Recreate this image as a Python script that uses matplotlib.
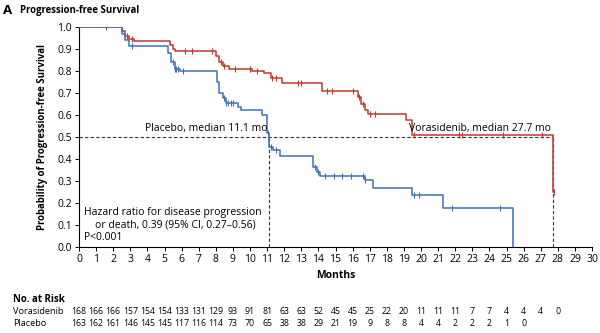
import matplotlib.pyplot as plt

plt.rcParams['font.family'] = ['Open Sans', 'DejaVu Sans']

# Kaplan-Meier steps (month, survival probability after the step)
vora_t = [0, 2.5, 2.7, 2.9, 3.2, 5.3, 5.5, 5.6, 8.0, 8.2, 8.4, 8.8, 10.1, 10.8, 11.2, 11.85,
          14.2, 16.3, 16.5, 16.7, 16.9, 19.1, 19.45, 27.7]
vora_s = [1.0, 0.98, 0.96, 0.945, 0.935, 0.92, 0.90, 0.893, 0.87, 0.84, 0.825, 0.81, 0.80, 0.79,
          0.77, 0.745, 0.71, 0.68, 0.65, 0.625, 0.604, 0.577, 0.507, 0.25]
vora_end = 27.8

plac_t = [0, 2.5, 2.7, 2.9, 5.2, 5.4, 5.6, 5.9, 8.05, 8.2, 8.4, 8.6, 9.3, 9.5, 10.7, 11.0,
          11.1, 11.35, 11.75, 13.7, 13.9, 14.1, 16.7, 17.2, 19.45, 21.3, 25.4]
plac_s = [1.0, 0.97, 0.94, 0.914, 0.88, 0.84, 0.81, 0.80, 0.75, 0.70, 0.677, 0.654, 0.638,
          0.623, 0.60, 0.52, 0.456, 0.441, 0.414, 0.365, 0.34, 0.324, 0.305, 0.267, 0.236,
          0.176, 0.0]

# censored observations (months)
vora_cens = [1.6, 2.8, 3.1, 6.2, 6.6, 7.8, 8.3, 8.5, 9.1, 10.0, 10.4, 11.3, 11.5, 12.8, 13.0,
             14.5, 14.8, 16.0, 16.4, 16.6, 17.0, 17.3, 19.6, 22.2, 22.4, 24.8, 27.1, 27.8]
plac_cens = [3.1, 5.5, 5.6, 5.7, 5.8, 6.1, 8.5, 8.6, 8.7, 8.9, 9.0, 11.05, 11.2, 11.5,
             13.8, 14.0, 14.4, 14.9, 15.4, 15.9, 16.6, 16.7, 19.6, 19.9, 21.8, 24.6]

months = list(range(0, 31))
risk_months_vora = list(range(0, 29))
risk_vora = [168, 166, 166, 157, 154, 154, 133, 131, 129, 93, 91, 81, 63, 63, 52, 45, 45, 25,
             22, 20, 11, 11, 11, 7, 7, 4, 4, 4, 0]
risk_months_plac = list(range(0, 27))
risk_plac = [163, 162, 161, 146, 145, 145, 117, 116, 114, 73, 70, 65, 38, 38, 29, 21, 19, 9, 8,
             8, 4, 4, 2, 2, 2, 1, 0]

red = '#bb3b2f'
blue = '#3e70b4'


def surv_at(times, surv, m):
    s = surv[0]
    for t, v in zip(times, surv):
        if t <= m:
            s = v
    return s


fig = plt.figure(figsize=(6, 3.33), dpi=100)
ax = fig.add_axes([79 / 600, 1 - 247 / 333, 513 / 600, 220 / 333])

ax.step(vora_t + [vora_end], vora_s + [vora_s[-1]], where='post', color=red, lw=1.1, zorder=3)
ax.step(plac_t, plac_s, where='post', color=blue, lw=1.1, zorder=3)
ax.plot(vora_cens, [surv_at(vora_t, vora_s, m) for m in vora_cens], ls='none', marker='|',
        ms=4, mew=0.8, color=red, zorder=4)
ax.plot(plac_cens, [surv_at(plac_t, plac_s, m) for m in plac_cens], ls='none', marker='|',
        ms=4, mew=0.8, color=blue, zorder=4)

# medians
ax.plot([0, 27.7], [0.5, 0.5], ls=(0, (3, 2)), color='#333333', lw=0.8, zorder=2)
ax.plot([11.1, 11.1], [0, 0.5], ls=(0, (3, 2)), color='#333333', lw=0.8, zorder=2)
ax.plot([27.7, 27.7], [0, 0.5], ls=(0, (3, 2)), color='#333333', lw=0.8, zorder=2)
ax.text(11.05, 0.515, 'Placebo, median 11.1 mo', ha='right', va='bottom', fontsize=7.5)
ax.text(27.6, 0.515, 'Vorasidenib, median 27.7 mo', ha='right', va='bottom', fontsize=7.5)
ax.text(0.3, 0.02, 'Hazard ratio for disease progression\n    or death, 0.39 (95% CI, 0.27\u20130.56)\nP<0.001',
        ha='left', va='bottom', fontsize=7.5, linespacing=1.15)

ax.set_xlim(0, 30)
ax.set_ylim(0, 1.0)
ax.set_xticks(months)
ax.set_yticks([i / 10 for i in range(11)])
ax.set_yticklabels([f'{i / 10:.1f}' for i in range(11)])
ax.tick_params(labelsize=7.5, length=3, width=0.7, pad=2)
for s in ['top', 'right']:
    ax.spines[s].set_visible(False)
for s in ['left', 'bottom']:
    ax.spines[s].set_linewidth(0.8)
ax.set_xlabel('Months', fontsize=7.5, fontweight='bold', labelpad=4)
ax.set_ylabel('Probability of Progression-free Survival', fontsize=6.9, fontweight='bold',
              labelpad=7)

fig.text(3 / 600, 1 - 10 / 333, 'A', fontsize=9.5, fontweight='bold', va='center')
fig.text(20 / 600, 1 - 10 / 333, 'Progression-free Survival', fontsize=6.9, fontweight='bold',
         va='center')

# number at risk table
tr = ax.get_xaxis_transform()
fig.text(13 / 600, 1 - 299 / 333, 'No. at Risk', fontsize=7.0, fontweight='bold', va='center')
fig.text(13 / 600, 1 - 311 / 333, 'Vorasidenib', fontsize=6.6, va='center')
fig.text(13 / 600, 1 - 323 / 333, 'Placebo', fontsize=6.6, va='center')
for m, n in zip(risk_months_vora, risk_vora):
    ax.text(m, -64 / 220, str(n), transform=tr, ha='center', va='center', fontsize=6.3)
for m, n in zip(risk_months_plac, risk_plac):
    ax.text(m, -76 / 220, str(n), transform=tr, ha='center', va='center', fontsize=6.3)

fig.savefig('out.png', dpi=100)
